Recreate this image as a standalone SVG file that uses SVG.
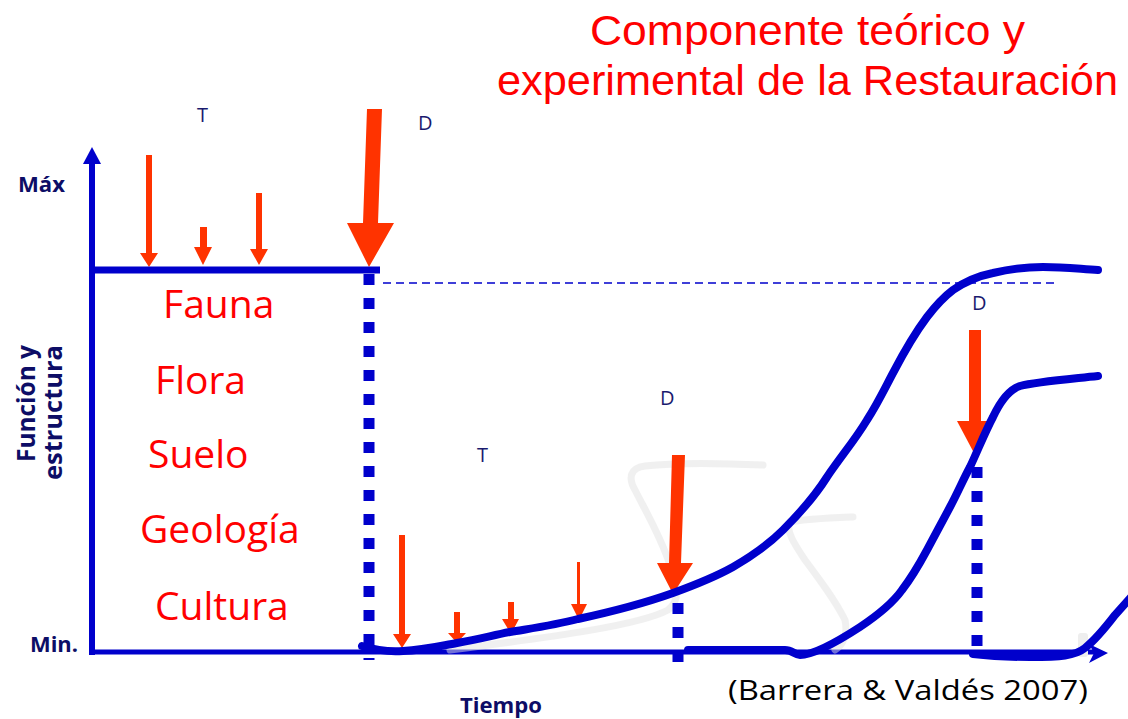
<svg xmlns="http://www.w3.org/2000/svg" width="1128" height="719" viewBox="0 0 1128 719">
<style>
.ttl{font-family:"Liberation Sans","Open Sans",sans-serif;font-size:42px;fill:#FF0000}
.comp{font-family:"Open Sans","Liberation Sans",sans-serif;font-size:39px;fill:#FF0000}
.ax{font-family:"Open Sans","Liberation Sans",sans-serif;font-size:22px;font-weight:bold;fill:#0D0D66}
.ylab{font-size:25px}
.lb{font-family:"Open Sans","Liberation Sans",sans-serif;font-size:20px;fill:#1A1A6E}
.ref{font-family:"Open Sans","Liberation Sans",sans-serif;font-size:27px;fill:#000}
.axis{stroke:#0000CC;fill:none}
.curve{stroke:#0000CC;stroke-width:8;fill:none;stroke-linecap:round}
.dot{stroke:#0000CC;stroke-width:11;stroke-dasharray:11 13;fill:none}
.arr{fill:#FF3300}
.scr{stroke:#E2E2E2;stroke-width:7;fill:none;stroke-linecap:round;opacity:0.5}
</style>

<g id="title">
<text class="ttl" x="590" y="45" textLength="435" lengthAdjust="spacingAndGlyphs">Componente teórico y</text>
<text class="ttl" x="497" y="95" textLength="621" lengthAdjust="spacingAndGlyphs">experimental de la Restauración</text>
</g>

<g id="axes">
<line class="axis" x1="92" y1="655" x2="92" y2="160" stroke-width="6"/>
<polygon points="83,164 92,147 101,164" fill="#0000CC"/>
<line class="axis" x1="89" y1="652" x2="1094" y2="652" stroke-width="5"/>
<polygon points="1089,644 1108,653 1089,663 1094,653" fill="#0000CC"/>
<text class="ax" x="18" y="192" textLength="47" lengthAdjust="spacingAndGlyphs">Máx</text>
<text class="ax" x="30" y="652" textLength="48" lengthAdjust="spacingAndGlyphs">Min.</text>
<text class="ax" x="460" y="713" textLength="82" lengthAdjust="spacingAndGlyphs">Tiempo</text>
<text class="ax ylab" transform="translate(35,345) rotate(-90)" text-anchor="end" textLength="117" lengthAdjust="spacingAndGlyphs">Función y</text>
<text class="ax ylab" transform="translate(62,345) rotate(-90)" text-anchor="end" textLength="135" lengthAdjust="spacingAndGlyphs">estructura</text>
</g>

<g id="components">
<text class="comp" x="163" y="318">Fauna</text>
<text class="comp" x="155" y="394">Flora</text>
<text class="comp" x="148" y="468">Suelo</text>
<text class="comp" x="140" y="543">Geología</text>
<text class="comp" x="155" y="620">Cultura</text>
</g>

<g id="scribble">
<path class="scr" d="M763,465 C720,463 670,463 645,466 C630,468 628,478 635,490 C645,510 660,535 670,565 C678,590 680,600 668,610 C640,625 560,636 450,650"/>
<path class="scr" d="M853,517 C830,518 805,519 790,522 C785,530 795,545 805,560 C820,580 835,600 845,620 C848,635 843,645 835,650"/>
<rect x="1078" y="633" width="10" height="24" rx="3" fill="#EEEEEE"/>
</g>

<g id="disturbances">
<polygon class="arr" points="146,155 152,155 152,253 158,253 149,267 140,253 146,253"/>
<polygon class="arr" points="200,227 207,227 207,247 212,247 203,265 194,247 200,247"/>
<polygon class="arr" points="256,193 262,193 262,249 268,249 259,265 250,249 256,249"/>
<polygon class="arr" points="367,109 382,109 378,223 394,223 369,267 347,223 363,223"/>
<polygon class="arr" points="399,535 405,535 405,634 411,634 402,648 393,634 399,634"/>
<polygon class="arr" points="454,612 460,612 460,633 466,633 457,643 448,633 454,633"/>
<polygon class="arr" points="508,602 514,602 514,619 519,619 511,634 502,619 508,619"/>
<polygon class="arr" points="577,562 580,562 580,604 587,604 579,620 571,604 577,604"/>
<polygon class="arr" points="672,455 685,455 681,563 693,563 673,594 657,563 669,563"/>
<polygon class="arr" points="969,330 981,330 981,421 990,421 974,453 957,421 969,421"/>
<text class="lb" x="197" y="122">T</text>
<text class="lb" x="418" y="130">D</text>
<text class="lb" x="477" y="462">T</text>
<text class="lb" x="660" y="405">D</text>
<text class="lb" x="972" y="310">D</text>
</g>

<g id="connectors">
<line class="axis" x1="92" y1="270" x2="380" y2="270" stroke-width="7"/>
<line class="axis" x1="383" y1="283" x2="1055" y2="283" stroke-width="1.5" stroke-dasharray="8 5"/>
<line class="dot" x1="369" y1="274" x2="369" y2="660"/>
<line class="dot" x1="678" y1="603" x2="678" y2="662"/>
<line class="dot" x1="977" y1="467" x2="977" y2="652"/>
<path class="curve" d="M362,646 C375,650 390,652 403,651 C425,650 440,646 457,643 C480,639 490,636 510,632 C540,627 555,625 578,619 C615,611 645,603 673,593 C695,585 715,577 733,567 C752,556 768,545 783,530 C800,513 815,496 827,477 C842,455 855,440 867,420 C878,403 885,388 893,373 C905,350 915,333 927,317 C937,304 945,296 953,290 C966,281 978,276 993,273 C1010,269 1025,267 1043,267 C1065,267 1080,269 1098,270"/>
<path class="curve" d="M688,650 L785,650 C792,650 795,655 800,655 C815,655 840,640 860,627 C878,615 892,604 902,590 C912,577 920,563 927,550 C935,535 942,522 950,507 C958,492 963,480 970,467 C978,450 985,432 993,417 C1000,402 1008,390 1020,386 C1035,382 1060,380 1098,376"/>
<path class="curve" d="M973,654 C990,656 1005,657 1030,657 C1060,657 1075,656 1085,648 C1095,640 1105,628 1115,615 L1132,596"/>
</g>

<g id="reference">
<text class="ref" x="728" y="700" textLength="360" lengthAdjust="spacingAndGlyphs">(Barrera &amp; Valdés 2007)</text>
</g>
</svg>
